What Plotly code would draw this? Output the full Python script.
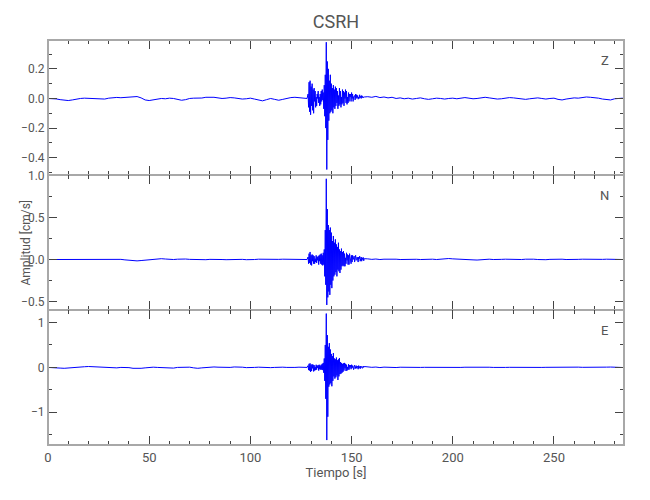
import numpy as np
import plotly.graph_objects as go
from plotly.subplots import make_subplots

# ---------------- data ----------------
# sampling grid: quiet part before the event, dense burst, quiet part after
t_pre = np.arange(0, 129, 2.0)                 # 0 .. 128 s
t_burst = 128.5 + 0.25 * np.arange(112)        # 128.5 .. 156.25 s
t_post = np.arange(158, 285, 2.0)              # 158 .. 284 s

z_pre = [0.0, 0.0, -0.003, -0.008, -0.012, -0.014, -0.01, -0.004, 0.0, 0.002,
         0.001, 0.0, -0.003, -0.006, -0.004, 0.002, 0.006, 0.007, 0.005, 0.008,
         0.01, 0.012, 0.013, 0.004, -0.01, -0.014, -0.01, -0.004, 0.0, -0.002,
         0.002, 0.0, -0.006, -0.012, -0.008, 0.0, 0.002, 0.0, 0.003, 0.008,
         0.01, 0.008, 0.004, 0.0, 0.002, 0.006, 0.004, 0.0, -0.004, -0.002,
         0.002, -0.004, -0.012, -0.016, -0.008, 0.0, -0.006, -0.012, -0.006, 0.002,
         0.006, 0.008, 0.004, 0.002, 0.0]
z_burst = [0.03, -0.06, 0.11, -0.09,   0.12, -0.11, 0.08, -0.05,
           0.10, -0.08, 0.06, -0.10,   0.07, -0.02, 0.05, -0.06,
           0.01, -0.05, 0.03, 0.0,     0.05, -0.03, 0.01, -0.05,
           0.03, -0.04, 0.05, -0.02,   0.06, -0.01, 0.04, -0.07,
           0.09, -0.12, 0.16, -0.20,   0.38, -0.48, 0.25, -0.28,
           0.20, -0.15, 0.12, -0.10,   0.16, -0.09, 0.10, -0.08,
           0.07, -0.10, 0.09, -0.06,   0.06, -0.07, 0.08, -0.05,
           0.07, -0.03, 0.05, -0.07,   0.02, -0.05, 0.07, -0.04,
           0.05, -0.06, 0.01, -0.04,   0.06, -0.03, 0.05, -0.05,
           0.04, 0.0, 0.06, -0.03,     0.05, -0.04, 0.01, -0.03,
           0.04, -0.02, 0.03, 0.01,    0.03, -0.02, 0.04, 0.0,
           0.03, -0.02, 0.01, 0.02,    0.02, -0.01, 0.03, 0.0,
           0.025, 0.005, 0.02, -0.005, 0.01, 0.0, 0.025, 0.005,
           0.015, 0.0, 0.02, 0.005,    0.015, 0.005, 0.01, 0.01]
z_post = [0.012, 0.008, 0.014, 0.006, 0.01, 0.004, 0.008, 0.0, 0.004, -0.002,
          0.002, -0.004, 0.0, 0.004, -0.002, -0.006, -0.002, 0.002, 0.0, -0.004,
          0.0, 0.002, -0.002, 0.004, 0.006, 0.002, -0.002, 0.0, 0.004, 0.008,
          0.004, 0.0, -0.004, -0.002, 0.002, 0.006, 0.004, 0.0, -0.004, -0.006,
          -0.002, 0.002, 0.004, 0.0, -0.004, 0.0, 0.002, -0.006, -0.01, -0.004,
          0.002, 0.004, 0.002, 0.006, 0.01, 0.008, 0.006, 0.002, -0.004, -0.006,
          -0.01, -0.002, 0.0, 0.002]

n_pre = [0.0, 0.0, 0.002, 0.004, 0.006, 0.004, 0.002, 0.004, 0.006, 0.008,
         0.006, 0.004, 0.008, 0.006, 0.004, 0.002, 0.0, 0.004, 0.002, -0.004,
         -0.01, -0.014, -0.016, -0.012, -0.006, 0.0, 0.004, 0.008, 0.01, 0.006,
         0.002, 0.0, 0.004, 0.008, 0.006, 0.002, 0.0, -0.004, -0.006, -0.002,
         0.002, 0.004, 0.002, 0.0, -0.002, 0.0, 0.004, 0.006, 0.002, -0.002,
         -0.004, 0.0, 0.004, 0.002, 0.0, -0.002, 0.0, 0.002, 0.004, 0.002,
         0.0, -0.002, 0.0, 0.002, 0.0]
n_burst = [0.03, -0.05, 0.07, -0.04,   0.09, -0.06, 0.05, -0.07,
           0.06, -0.02, 0.05, -0.05,   0.04, -0.05, 0.01, -0.03,
           0.05, -0.04, 0.03, -0.01,   0.04, -0.06, 0.05, -0.02,
           0.06, -0.05, 0.07, -0.06,   0.05, -0.07, 0.08, -0.06,
           0.12, -0.20, 0.35, -0.30,   0.96, -0.54, 0.60, -0.45,
           0.41, -0.38, 0.35, -0.42,   0.38, -0.30, 0.32, -0.34,
           0.22, -0.25, 0.28, -0.20,   0.20, -0.18, 0.24, -0.15,
           0.18, -0.20, 0.15, -0.12,   0.20, -0.14, 0.12, -0.16,
           0.10, -0.12, 0.13, -0.08,   0.09, -0.07, 0.10, -0.08,
           0.07, -0.08, 0.02, -0.05,   0.08, -0.01, 0.06, -0.06,
           0.05, -0.06, 0.07, 0.0,     0.01, -0.05, 0.05, -0.03,
           0.05, 0.0, 0.02, 0.04,      -0.03, 0.02, 0.05, -0.01,
           0.0, 0.03, -0.02, -0.03,    0.03, 0.01, 0.04, -0.02,
           0.01, 0.03, -0.02, 0.02,    0.0, 0.025, -0.015, 0.01]
n_post = [0.008, 0.002, 0.006, 0.0, 0.004, 0.006, 0.002, 0.004, 0.0, 0.003,
          0.005, 0.001, 0.003, 0.0, 0.004, 0.002, 0.004, 0.0, 0.006, 0.01,
          0.012, 0.008, 0.004, 0.006, 0.002, 0.0, -0.004, -0.006, -0.002, 0.002,
          0.004, 0.0, -0.002, 0.002, 0.004, 0.002, -0.002, -0.004, 0.0, 0.004,
          0.006, 0.004, 0.0, -0.004, -0.002, 0.002, 0.004, 0.006, 0.004, 0.0,
          -0.002, 0.0, 0.002, 0.004, 0.002, 0.0, -0.002, 0.0, 0.002, 0.004,
          0.002, 0.0, 0.002, 0.0]

e_pre = [0.0, 0.0, -0.005, -0.015, -0.02, -0.01, 0.0, 0.005, 0.01, 0.015,
         0.02, 0.015, 0.005, 0.0, -0.005, -0.015, -0.02, -0.01, 0.0, 0.005,
         -0.005, -0.02, -0.025, -0.02, -0.01, 0.0, 0.005, 0.0, -0.005, -0.015,
         -0.025, -0.015, 0.0, 0.005, 0.01, 0.005, -0.01, -0.02, -0.01, 0.0,
         0.005, 0.01, 0.005, 0.0, -0.005, 0.0, 0.01, 0.015, 0.005, -0.005,
         -0.01, 0.0, 0.005, 0.0, -0.01, -0.005, 0.0, 0.01, 0.005, 0.0,
         -0.005, 0.0, 0.005, 0.0, 0.0]
e_burst = [0.04, -0.06, 0.08, -0.07,   0.09, -0.10, 0.06, -0.08,
           0.07, -0.02, 0.06, -0.09,   0.05, -0.07, 0.01, -0.06,
           0.06, -0.05, 0.04, -0.01,   0.05, -0.07, 0.06, -0.04,
           0.04, -0.05, 0.06, -0.05,   0.08, -0.06, 0.10, -0.12,
           0.20, -0.30, 0.50, -0.70,   1.20, -1.62, 0.72, -1.10,
           0.46, -0.43, 0.54, -0.38,   0.40, -0.35, 0.30, -0.42,
           0.25, -0.30, 0.32, -0.20,   0.20, -0.25, 0.18, -0.22,
           0.22, -0.18, 0.16, -0.28,   0.18, -0.20, 0.21, -0.15,
           0.12, -0.14, 0.10, -0.12,   0.08, -0.10, 0.09, -0.07,
           0.10, -0.02, 0.08, -0.08,   0.06, -0.07, 0.01, -0.05,
           0.07, -0.05, 0.05, 0.0,     0.05, -0.04, 0.06, -0.01,
           0.04, 0.0, -0.05, 0.03,     0.05, -0.03, 0.0, 0.04,
           -0.02, 0.03, 0.01, -0.04,   0.04, -0.01, 0.02, -0.03,
           0.03, 0.0, 0.02, -0.02,     -0.01, 0.03, 0.0, 0.02]
e_post = [0.01, 0.002, 0.008, -0.004, 0.006, 0.0, 0.005, -0.003, 0.004, 0.0,
          0.003, -0.002, 0.004, 0.0, 0.002, 0.0, 0.004, 0.0, -0.004, 0.0,
          0.004, 0.002, -0.002, 0.0, 0.004, 0.006, 0.002, -0.002, 0.0, 0.002,
          0.004, 0.0, -0.004, -0.002, 0.0, 0.002, 0.0, -0.002, 0.0, 0.004,
          0.002, 0.0, -0.002, 0.0, 0.002, 0.004, 0.002, 0.0, -0.004, -0.002,
          0.0, 0.004, 0.006, 0.002, 0.0, -0.002, 0.0, 0.002, 0.004, 0.006,
          0.008, 0.004, 0.0, -0.002]

components = ["Z", "N", "E"]
title_text = "CSRH"
y_title = "Amplitud [cm/s]"
x_title = "Tiempo [s]"

# ---------------- figure ----------------
t_all = np.concatenate([t_pre, t_burst, t_post])
series = {
    "Z": z_pre + z_burst + z_post,
    "N": n_pre + n_burst + n_post,
    "E": e_pre + e_burst + e_post,
}

FONT = "Roboto, Liberation Sans Narrow, sans-serif"
TXT = "#555555"
AX = "#a8a8a8"
TK = "#444444"

fig = make_subplots(rows=3, cols=1, shared_xaxes=True, vertical_spacing=0)

for i, c in enumerate(components):
    fig.add_trace(go.Scatter(x=t_all, y=series[c], mode="lines",
                             line=dict(color="#0000ff", width=1),
                             hoverinfo="skip", showlegend=False),
                  row=i + 1, col=1)

y_cfg = [
    dict(range=[-0.517, 0.395], dtick=0.2, tickformat=".1f", minor=0.1),
    dict(range=[-0.60, 1.005], dtick=0.5, tickformat=".1f", minor=0.25),
    dict(range=[-1.73, 1.28], dtick=1, tickformat="d", minor=0.5),
]

for i, cfg in enumerate(y_cfg):
    fig.update_yaxes(range=cfg["range"], dtick=cfg["dtick"], tick0=0,
                     tickformat=cfg["tickformat"], automargin=False,
                     showline=True, linecolor=AX, linewidth=1, mirror="allticks",
                     ticks="inside", ticklen=9, tickcolor=TK, tickwidth=1,
                     minor=dict(dtick=cfg["minor"], tick0=0, ticks="inside", ticklen=4,
                                tickcolor=TK, tickwidth=1, showgrid=False),
                     showgrid=False, zeroline=False, ticklabelstandoff=0,
                     tickfont=dict(family=FONT, size=12, color=TXT),
                     row=i + 1, col=1)

fig.update_xaxes(range=[0, 284.6], dtick=50, tick0=0, automargin=False,
                 showline=True, linecolor=AX, linewidth=1, mirror="allticks",
                 ticks="inside", ticklen=9, tickcolor=TK, tickwidth=1,
                 minor=dict(dtick=10, tick0=0, ticks="inside", ticklen=4,
                            tickcolor=TK, tickwidth=1, showgrid=False),
                 showgrid=False, zeroline=False,
                 tickfont=dict(family=FONT, size=13, color=TXT))

fig.update_xaxes(title=dict(text=x_title, font=dict(family=FONT, size=13, color=TXT),
                            standoff=2), row=3, col=1)

# outer frame (slightly heavier, as in the reference)
fig.add_shape(type="rect", xref="paper", yref="paper", x0=0, x1=1, y0=0, y1=1,
              line=dict(color=AX, width=2), layer="above")

fig.add_annotation(text=y_title, xref="paper", x=(25 - 48) / 576,
                   yref="y2 domain", y=0.5, textangle=-90, showarrow=False,
                   xanchor="center", yanchor="middle",
                   font=dict(family=FONT, size=12, color=TXT))

for i, c in enumerate(components):
    yref = "y domain" if i == 0 else f"y{i + 1} domain"
    fig.add_annotation(text=c, xref="paper", x=0.967, yref=yref, y=0.85,
                       showarrow=False, xanchor="center", yanchor="middle",
                       font=dict(family=FONT, size=13, color=TXT))

# the page body adds an 8 px offset; margins compensate so the plot area
# sits at x 48..624, y 40..445 of the window
fig.update_layout(
    width=650, height=500,
    margin=dict(l=40, r=34, t=32, b=63),
    paper_bgcolor="white", plot_bgcolor="white",
    title=dict(text=title_text, x=0.5, xref="paper", y=1 - 14 / 500, yanchor="middle",
               font=dict(family=FONT, size=18, color=TXT)),
    font=dict(family=FONT, color=TXT),
)

fig.write_html("out.html")
